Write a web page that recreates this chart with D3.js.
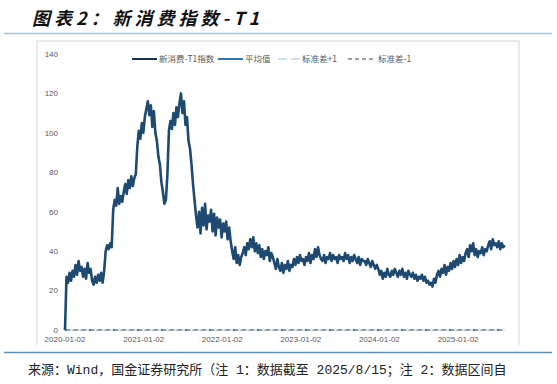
<!DOCTYPE html>
<html lang="zh">
<head>
  <meta charset="UTF-8">
  <title>新消费指数-T1</title>
  <style>
    body { margin: 0; background: #fff; }
    svg { display: block; }
  </style>
</head>
<body>
  <svg id="chart" width="557" height="384"></svg>

  <script src="https://d3js.org/d3.v7.min.js"></script>
  <script>
    // weekly readings of the index, first point 2020-01-02
    const startDate = "2020-01-02";
    const endDate = "2025-08-15";
    const idx2020 = [0, 27, 24, 29, 25, 30, 27, 33, 28, 35, 30, 32, 27, 31, 26, 34, 29, 31, 25, 23, 27, 24, 28, 25, 29, 24, 30,
      40, 43, 41, 44, 42, 61, 66, 63, 72, 64, 68, 65, 70, 74, 69, 76, 72, 78, 73, 77, 79, 93, 101, 97, 105];
    const idx2021 = [100, 108, 112, 116, 109, 114, 103, 111, 100, 96, 88, 84, 75, 70, 64, 66, 79,
      101, 106, 102, 110, 104, 113, 108, 115, 120, 110, 116, 104, 108, 96, 92, 84, 74, 66, 58,
      52, 60, 49, 62, 53, 64, 51, 58, 55, 61, 50, 59, 48, 57, 52, 56];
    const idx2022 = [47, 54, 50, 55, 46, 52, 45, 40, 36, 42, 34, 38, 33, 37,
      39, 42, 38, 44, 41, 46, 42, 47, 40, 44, 39, 43, 37, 41, 36, 40, 38, 42, 35, 39, 37,
      34, 31, 36, 32, 30, 34, 29, 33, 31, 35, 30, 33, 32, 36, 33, 37, 34];
    const idx2023 = [38, 35, 36, 33, 37, 35, 39, 34, 38, 36, 41, 37, 42, 38, 36,
      35, 38, 34, 37, 36, 39, 35, 38, 36, 37, 34, 38, 36,
      37, 35, 39, 36, 38, 34, 37, 35, 38, 36, 34, 37, 33, 36, 35,
      35, 33, 36, 34, 32, 35, 33, 31, 33];
    const idx2024to25 = [31, 28, 30, 26, 29, 27, 31, 28,
      27, 30, 28, 31, 29, 27, 30, 28, 31, 27, 29, 26, 30, 28, 27, 29, 26, 28, 25, 27, 26, 28, 25, 27, 24,
      25, 23, 24, 22, 26, 24,
      28, 30, 27, 31, 29, 33, 28, 32, 30, 34, 31, 35,
      32, 36, 33, 38, 34, 37, 35, 39, 41, 37, 43, 40, 44,
      38, 41, 37, 40, 39, 42, 38, 41, 40,
      43, 45, 41, 46, 43, 44, 42, 45, 41, 44, 42, 43];

    // reference lines (all sit on zero in the source chart)
    const meanValue = 0;
    const stdPlus = 0;
    const stdMinus = 0;

    const yTicks = [0, 20, 40, 60, 80, 100, 120, 140];
    const xTickLabels = ["2020-01-02", "2021-01-02", "2022-01-02", "2023-01-02", "2024-01-02", "2025-01-02"];

    const legendItems = [
      { name: "新消费-T1指数", color: "#14305a", dash: null, w: 2 },
      { name: "平均值", color: "#2e75b6", dash: null, w: 2 },
      { name: "标准差+1", color: "#bdd7ee", dash: "9,4", w: 1.5 },
      { name: "标准差-1", color: "#808080", dash: "4,3", w: 1.5 }
    ];

    const parse = d3.timeParse("%Y-%m-%d");
    const t0 = parse(startDate);
    const values = [].concat(idx2020, idx2021, idx2022, idx2023, idx2024to25);
    const data = values.map((v, i) => ({ date: d3.timeDay.offset(t0, i * 7), value: v }));

    const svg = d3.select("#chart");
    const cjk = "'Noto Sans CJK SC', 'Noto Sans', sans-serif";
    const sans = "'Liberation Sans', Arial, 'Noto Sans CJK SC', sans-serif";

    // title and rules
    svg.append("text")
      .attr("x", 32).attr("y", 25)
      .attr("font-family", cjk)
      .attr("font-size", 18)
      .attr("font-weight", "bold")
      .attr("font-style", "italic")
      .attr("letter-spacing", 4)
      .attr("fill", "#111")
      .text("图表2：新消费指数-T1");

    svg.append("line")
      .attr("x1", 4).attr("x2", 552).attr("y1", 33.5).attr("y2", 33.5)
      .attr("stroke", "#a9c4da").attr("stroke-width", 1.5);

    svg.append("line")
      .attr("x1", 4).attr("x2", 552).attr("y1", 352.5).attr("y2", 352.5)
      .attr("stroke", "#5b8fb5").attr("stroke-width", 1.5);

    svg.append("text")
      .attr("x", 28).attr("y", 374)
      .attr("font-family", "'Liberation Mono', 'Noto Sans CJK SC', monospace")
      .attr("font-size", 13)
      .attr("fill", "#222")
      .text("来源：Wind，国金证券研究所（注 1：数据截至 2025/8/15；注 2：数据区间自");

    // chart frame
    svg.append("path")
      .attr("d", "M37,345V41H519V345")
      .attr("fill", "none")
      .attr("stroke", "#e3e3e3")
      .attr("stroke-width", 1.5);

    // scales
    const x = d3.scaleTime()
      .domain([t0, parse(endDate)])
      .range([65, 506.5]);

    const y = d3.scaleLinear()
      .domain([0, 140])
      .range([330, 54]);

    // y labels
    svg.append("g")
      .selectAll("text")
      .data(yTicks)
      .join("text")
      .attr("x", 58)
      .attr("y", d => y(d))
      .attr("dy", "0.35em")
      .attr("text-anchor", "end")
      .attr("font-family", sans)
      .attr("font-size", 8)
      .attr("fill", "#595959")
      .text(d => d);

    // x labels
    svg.append("g")
      .selectAll("text")
      .data(xTickLabels)
      .join("text")
      .attr("x", d => x(parse(d)))
      .attr("y", 342)
      .attr("text-anchor", "middle")
      .attr("font-family", sans)
      .attr("font-size", 8)
      .attr("fill", "#595959")
      .text(d => d);

    // reference lines on zero
    const extent = d3.extent(data, d => d.date);
    const flat = v => extent.map(dt => ({ date: dt, value: v }));
    const line = d3.line().x(d => x(d.date)).y(d => y(d.value));

    svg.append("path")
      .datum(flat(stdPlus))
      .attr("d", line)
      .attr("fill", "none")
      .attr("stroke", "#bdd7ee")
      .attr("stroke-width", 1.5);

    svg.append("path")
      .datum(flat(stdMinus))
      .attr("d", line)
      .attr("fill", "none")
      .attr("stroke", "#8c8c8c")
      .attr("stroke-width", 1.5)
      .attr("stroke-dasharray", "5,3");

    svg.append("path")
      .datum(flat(meanValue))
      .attr("d", line)
      .attr("fill", "none")
      .attr("stroke", "#2e75b6")
      .attr("stroke-width", 1.5)
      .attr("stroke-dasharray", "2,22");

    // index line
    svg.append("path")
      .datum(data)
      .attr("d", line)
      .attr("fill", "none")
      .attr("stroke", "#1e4a72")
      .attr("stroke-width", 2.6)
      .attr("stroke-linejoin", "round");

    // legend
    const lx = [132, 218, 278, 348];
    const lg = svg.append("g").attr("font-family", cjk).attr("font-size", 8.5).attr("fill", "#595959");
    legendItems.forEach((it, i) => {
      const len = i === 2 ? 22 : (i === 3 ? 28 : 25);
      lg.append("line")
        .attr("x1", lx[i]).attr("x2", lx[i] + len)
        .attr("y1", 59).attr("y2", 59)
        .attr("stroke", it.color)
        .attr("stroke-width", it.w)
        .attr("stroke-dasharray", it.dash);
      lg.append("text")
        .attr("x", lx[i] + len + 2)
        .attr("y", 59)
        .attr("dy", "0.35em")
        .text(it.name);
    });
  </script>
</body>
</html>
